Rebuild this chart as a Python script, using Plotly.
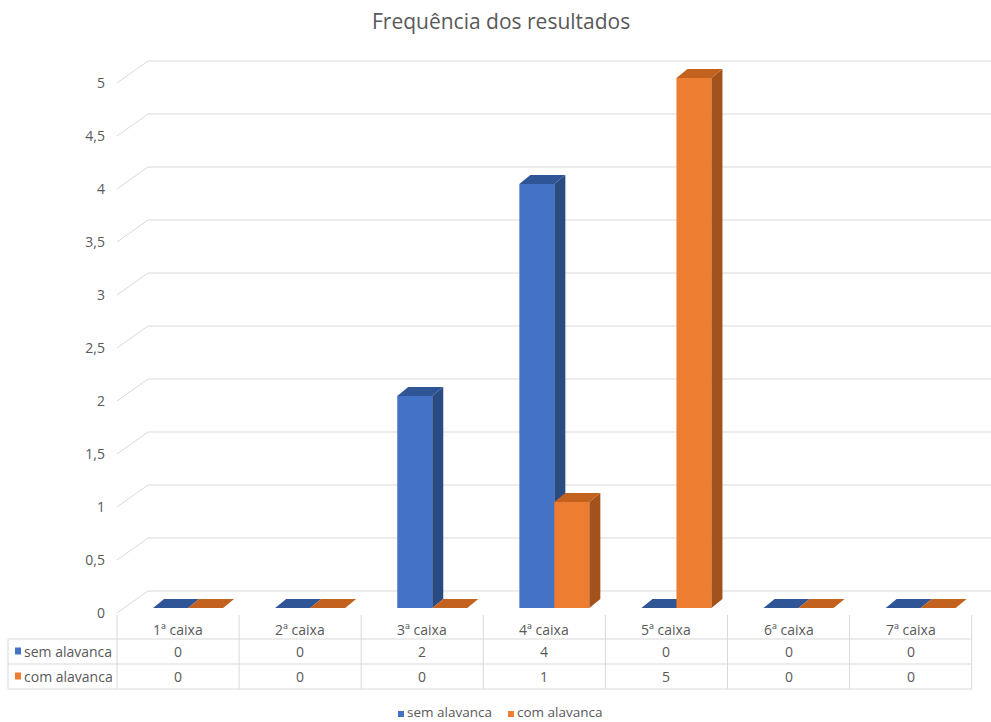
import plotly.graph_objects as go

# ---- data -------------------------------------------------------------
categories = ["1ª caixa", "2ª caixa", "3ª caixa", "4ª caixa", "5ª caixa", "6ª caixa", "7ª caixa"]
sem_alavanca = [0, 0, 2, 4, 0, 0, 0]
com_alavanca = [0, 0, 0, 1, 5, 0, 0]
series_names = ["sem alavanca", "com alavanca"]
y_ticks = [0, 0.5, 1, 1.5, 2, 2.5, 3, 3.5, 4, 4.5, 5]
y_tick_labels = ["0", "0,5", "1", "1,5", "2", "2,5", "3", "3,5", "4", "4,5", "5"]
title_text = "Frequência dos resultados"

# ---- page geometry ----------------------------------------------------
W, H = 991, 722
ML = 106                     # left margin (room for the value labels)
SLOT = 122.1                 # pixels per category
UNIT = 106.0                 # pixels per value unit
X0 = -0.5 - (117 - ML) / SLOT
X1 = X0 + (W - ML) / SLOT
Y1 = 613 / UNIT
Y0 = -(H - 613) / UNIT

# 3-D look: oblique offset of the back wall and bar depth
WALL_DX, WALL_DY = 31 / SLOT, 22 / UNIT
BAR_DX, BAR_DY = 11 / SLOT, 9 / UNIT
BAR_BASE = 5 / UNIT
BAR_W = 35 / SLOT
OFFSETS = [-25 / SLOT, 10 / SLOT]

FRONT = ["#4472c4", "#ed7d31"]
TOP = ["#2f5597", "#c3611e"]
SIDE = ["#2a4a82", "#a4521c"]
GRID = "#d9d9d9"
TEXT = "#595959"
FONT = "Open Sans"
FS = 14


def px(p):
    return (p - ML) / (W - ML)


def py(p):
    return 1 - p / H


def label(x, y, text, anchor="center", size=FS):
    return dict(x=x, y=y, xref="paper", yref="paper", text=text, showarrow=False,
                xanchor=anchor, yanchor="middle",
                font=dict(size=size, color=TEXT, family=FONT))


fig = go.Figure()

# back wall / side wall gridlines
gx, gy = [], []
for v in y_ticks:
    gx += [-0.5, -0.5 + WALL_DX, X1 + 1, None]
    gy += [v, v + WALL_DY, v + WALL_DY, None]
fig.add_trace(go.Scatter(x=gx, y=gy, mode="lines", line=dict(color=GRID, width=1),
                         hoverinfo="skip", xaxis="x", yaxis="y"))

# bars: one overlaid subplot per series so later series sit in front
for s, (vals, name) in enumerate(zip([sem_alavanca, com_alavanca], series_names)):
    xa, ya = f"x{s + 2}", f"y{s + 2}"
    idx = list(range(len(categories)))
    fig.add_trace(go.Bar(x=idx, y=vals, base=[BAR_BASE] * len(vals), width=BAR_W,
                         offset=OFFSETS[s], marker=dict(color=FRONT[s], line=dict(width=0)),
                         name=name, xaxis=xa, yaxis=ya, hoverinfo="skip"))
    tx, ty, sx, sy = [], [], [], []
    for i, v in enumerate(vals):
        l = i + OFFSETS[s]
        r = l + BAR_W
        top = BAR_BASE + v
        tx += [l, r, r + BAR_DX, l + BAR_DX, l, None]
        ty += [top, top, top + BAR_DY, top + BAR_DY, top, None]
        if v > 0:
            sx += [r, r + BAR_DX, r + BAR_DX, r, r, None]
            sy += [BAR_BASE, BAR_BASE + BAR_DY, top + BAR_DY, top, BAR_BASE, None]
    if sx:
        fig.add_trace(go.Scatter(x=sx, y=sy, mode="lines", fill="toself", fillcolor=SIDE[s],
                                 line=dict(width=0), hoverinfo="skip", xaxis=xa, yaxis=ya))
    fig.add_trace(go.Scatter(x=tx, y=ty, mode="lines", fill="toself", fillcolor=TOP[s],
                             line=dict(width=0), hoverinfo="skip", xaxis=xa, yaxis=ya))

# ---- data table under the floor ---------------------------------------
shapes = []
annotations = []
col_edges = [117 + k * SLOT for k in range(len(categories) + 1)]
row_lines = [639, 664, 689]
line = dict(color=GRID, width=1)
for yv in row_lines:
    shapes.append(dict(type="line", xref="paper", yref="paper", x0=px(8), x1=px(col_edges[-1]),
                       y0=py(yv), y1=py(yv), line=line))
shapes.append(dict(type="line", xref="paper", yref="paper", x0=px(8), x1=px(8),
                   y0=py(639), y1=py(689), line=line))
for xe in col_edges:
    shapes.append(dict(type="line", xref="paper", yref="paper", x0=px(xe), x1=px(xe),
                       y0=py(615), y1=py(689), line=line))

for i, c in enumerate(categories):
    cx = px(117 + (i + 0.5) * SLOT)
    annotations.append(label(cx, py(629), c))
    for r, vals in enumerate([sem_alavanca, com_alavanca]):
        annotations.append(label(cx, py(651 + 25 * r), str(vals[i])))

for r, name in enumerate(series_names):
    yc = 651 + 25 * r
    shapes.append(dict(type="rect", xref="paper", yref="paper", x0=px(15), x1=px(21),
                       y0=py(yc + 3.5), y1=py(yc - 3.5), fillcolor=FRONT[r], line=dict(width=0)))
    annotations.append(label(px(22), py(yc), name, anchor="left"))

# ---- legend -----------------------------------------------------------
legend_x = [398, 508]
for r, name in enumerate(series_names):
    shapes.append(dict(type="rect", xref="paper", yref="paper", x0=px(legend_x[r]),
                       x1=px(legend_x[r] + 6), y0=py(717), y1=py(711),
                       fillcolor=FRONT[r], line=dict(width=0)))
    annotations.append(label(px(legend_x[r] + 7), py(711.5), name, anchor="left", size=13.5))

# ---- title ------------------------------------------------------------
annotations.append(label(px(501), py(21), title_text, size=21))

hidden_x = dict(range=[X0, X1], visible=False, showgrid=False, zeroline=False, fixedrange=True)
hidden_y = dict(range=[Y0, Y1], visible=False, showgrid=False, zeroline=False, fixedrange=True)

fig.update_layout(
    width=W, height=H,
    margin=dict(l=ML, r=0, t=0, b=0),
    paper_bgcolor="white", plot_bgcolor="white",
    showlegend=False,
    font=dict(family=FONT, color=TEXT),
    barmode="overlay",
    xaxis=dict(hidden_x),
    yaxis=dict(range=[Y0, Y1], tickvals=y_ticks, ticktext=y_tick_labels, showgrid=False,
               zeroline=False, showline=False, ticks="", fixedrange=True,
               tickfont=dict(size=FS, color=TEXT, family=FONT)),
    xaxis2=dict(hidden_x, overlaying="x", anchor="y2"),
    yaxis2=dict(hidden_y, overlaying="y", anchor="x2"),
    xaxis3=dict(hidden_x, overlaying="x", anchor="y3"),
    yaxis3=dict(hidden_y, overlaying="y", anchor="x3"),
    shapes=shapes,
    annotations=annotations,
)

fig.write_html("out.html")
